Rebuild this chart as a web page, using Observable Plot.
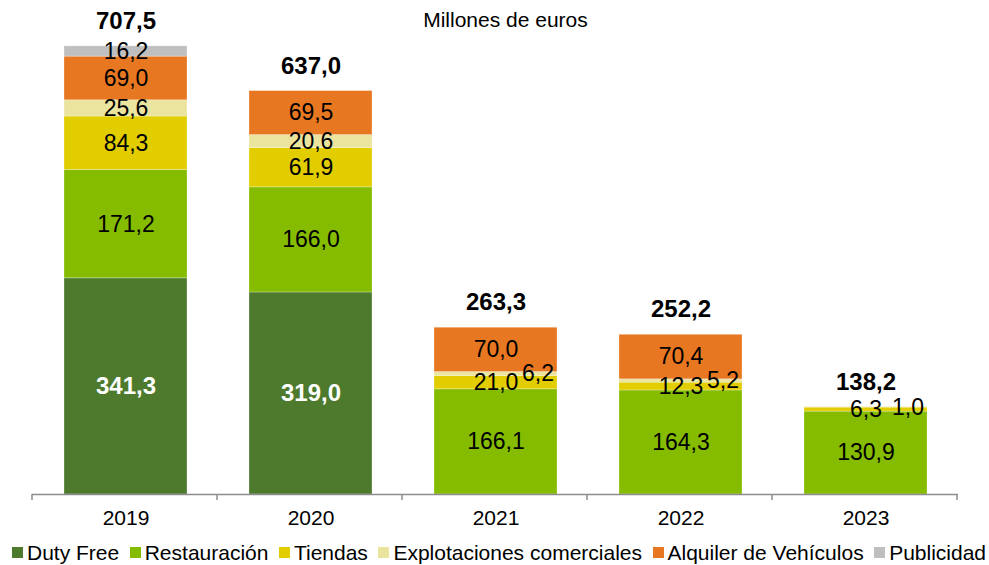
<!DOCTYPE html>
<html><head><meta charset="utf-8">
<script src="https://cdn.jsdelivr.net/npm/d3@7"></script>
<script src="https://cdn.jsdelivr.net/npm/@observablehq/plot@0.6"></script>
<style>
body{margin:0;background:#fff;font-family:"Liberation Sans",Arial,sans-serif;}
#legend{display:flex;gap:10.5px;padding-left:12px;padding-top:5px;height:25px;align-items:center;font-size:21px;color:#000;white-space:nowrap;line-height:1}
.item{display:flex;align-items:center}
.sw{display:inline-block;width:11px;height:11px;margin-right:4px}
</style></head><body><div id="chart"></div><div id="legend"></div>
<script>
const years = ["2019", "2020", "2021", "2022", "2023"];
const seriesNames = ["Duty Free", "Restauración", "Tiendas", "Explotaciones comerciales", "Alquiler de Vehículos", "Publicidad"];
const seriesColors = ["#4D7A2C", "#85BC00", "#E2CD00", "#EAE49E", "#E87722", "#BFBFBF"];
const dutyFree      = [341.3, 319.0, 0, 0, 0];
const restauracion  = [171.2, 166.0, 166.1, 164.3, 130.9];
const tiendas       = [84.3, 61.9, 21.0, 12.3, 6.3];
const explotaciones = [25.6, 20.6, 6.2, 5.2, 1.0];
const alquiler      = [69.0, 69.5, 70.0, 70.4, 0];
const publicidad    = [16.2, 0, 0, 0, 0];
const totals        = [707.5, 637.0, 263.3, 252.2, 138.2];
const title = "Millones de euros";

const values = [dutyFree, restauracion, tiendas, explotaciones, alquiler, publicidad];
const rows = years.flatMap((year, i) => seriesNames.map((serie, k) => ({year, serie, value: values[k][i]}))).filter(d => d.value > 0);
const totalRows = years.map((year, i) => ({year, total: totals[i]}));
const fmt = v => v.toFixed(1).replace(".", ",");
const isSmallExp = d => d.serie === "Explotaciones comerciales" && d.value < 10;

const W = 989, H = 535;
const plot = Plot.plot({
  width: W, height: H,
  marginLeft: 32, marginRight: 31, marginTop: 19, marginBottom: 41,
  style: {fontFamily: "'Liberation Sans', Arial, sans-serif", fontSize: "21px", color: "#000", background: "#fff"},
  x: {domain: years, paddingInner: 0.336, paddingOuter: 0.168, tickSize: 0, tickPadding: 16, label: null},
  y: {domain: [0, 750], axis: null},
  color: {domain: seriesNames, range: seriesColors},
  marks: [
    Plot.barY(rows, {x: "year", y: "value", z: "serie", fill: "serie", stroke: "#ffffff", strokeOpacity: 0.35, strokeWidth: 0.8}),
    Plot.ruleY([0], {stroke: "#8c8c8c", strokeWidth: 1.5}),
    Plot.text(rows, Plot.stackY({x: "year", y: "value", z: "serie",
      text: d => d.serie === "Duty Free" ? fmt(d.value) : null,
      fill: "white", fontWeight: "bold", fontSize: 24})),
    Plot.text(rows, Plot.stackY({x: "year", y: "value", z: "serie",
      text: d => (d.serie !== "Duty Free" && !isSmallExp(d)) ? fmt(d.value) : null,
      fill: "black", fontSize: 23})),
    Plot.text(rows, Plot.stackY({x: "year", y: "value", z: "serie",
      text: d => isSmallExp(d) ? fmt(d.value) : null,
      fill: "black", fontSize: 23, dx: 42})),
    Plot.text(totalRows, {x: "year", y: "total", text: d => fmt(d.total), dy: -25, fontWeight: "bold", fontSize: 24, fill: "black"}),
    Plot.text([title], {frameAnchor: "top", text: d => d, dx: 10, dy: 1, fontSize: 21, fill: "black", lineAnchor: "middle"})
  ]
});
document.getElementById("chart").appendChild(plot);

// category separator ticks below the baseline
const xs = plot.scale("x");
const ys = plot.scale("y");
const y0 = ys.apply ? ys.apply(0) : ys.range[0];
const r0 = Math.min(...xs.range);
const svg = d3.select(plot);
for (let i = 0; i <= years.length; i++) {
  const xp = r0 + i * xs.step;
  svg.append("line").attr("x1", xp).attr("x2", xp).attr("y1", y0).attr("y2", y0 + 6)
    .attr("stroke", "#8c8c8c").attr("stroke-width", 1.5);
}

const legend = d3.select("#legend");
seriesNames.forEach((s, i) => {
  const it = legend.append("div").attr("class", "item");
  it.append("span").attr("class", "sw").style("background", seriesColors[i]);
  it.append("span").text(s);
});
</script></body></html>
